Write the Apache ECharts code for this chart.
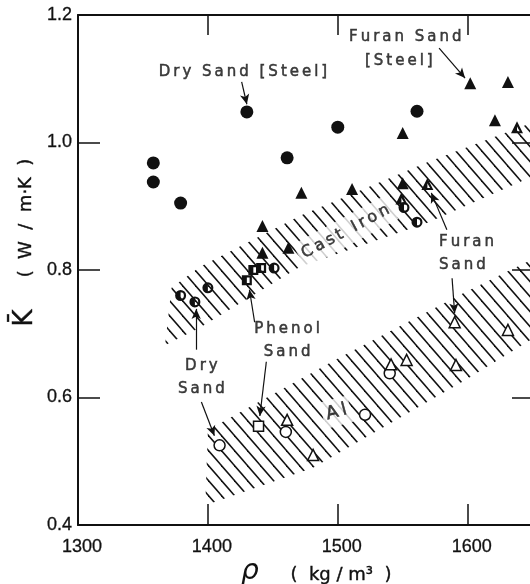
<!DOCTYPE html>
<html><head><meta charset="utf-8">
<script src="https://cdn.jsdelivr.net/npm/echarts@6/dist/echarts.min.js"></script>
<style>html,body{margin:0;padding:0;background:#fff}#c{width:530px;height:584px}</style>
</head><body><div id="c"></div>
<script>
// ---- data (density kg/m3, mean conductivity W/mK) ----
const xTickLabels = [1300, 1400, 1500, 1600];
const xTickMarks = [1400, 1500, 1600];
// Steel (filled)
const steelDry = [[1358,0.968],[1358,0.938],[1379,0.905],[1430,1.048],[1461,0.976],[1500,1.024],[1561,1.049]];
const steelFuran = [[1602,1.093],[1631,1.095],[1621,1.035],[1550,1.015],[1472,0.921],[1511,0.927],[1550,0.936],[1442,0.869],[1462,0.835],[1442,0.827]];
// Cast iron (half filled)
const castDry = [[1379,0.760],[1390,0.750],[1400,0.772],[1451,0.803],[1551,0.898],[1561,0.875]];
const castFuran = [[1569,0.935],[1549,0.912],[1638,1.024]];
const castPhenol = [[1430,0.784],[1435,0.800],[1441,0.803]];
// Aluminium (open)
const alDry = [[1409,0.525],[1460,0.546],[1521,0.573],[1540,0.638]];
const alPhenol = [[1439,0.555]];
const alFuran = [[1461,0.565],[1481,0.510],[1541,0.652],[1553,0.659],[1590,0.718],[1591,0.651],[1631,0.706]];
// hatched bands
const castIronBand = [[1367,0.682],[1372,0.772],[1394,0.805],[1471,0.885],[1569,0.969],[1648,1.030],[1648,0.945],[1569,0.874],[1471,0.805],[1394,0.710]];
const alBand = [[1398,0.431],[1400,0.549],[1499,0.660],[1598,0.765],[1648,0.815],[1648,0.690],[1598,0.627],[1481,0.490]];
// annotations
const notes = [
  {text:'Dry Sand [Steel]', at:[1427,1.111], align:'center', rotate:0},
  {text:'Furan Sand', at:[1552,1.166], align:'center', rotate:0},
  {text:'[Steel]', at:[1547,1.128], align:'center', rotate:0},
  {text:'Cast Iron', at:[1506,0.860], align:'center', rotate:28},
  {text:'Furan\nSand', at:[1578,0.825], align:'left', rotate:0},
  {text:'Phenol\nSand', at:[1461,0.689], align:'center', rotate:0},
  {text:'Dry\nSand', at:[1395,0.631], align:'center', rotate:0},
  {text:'Al', at:[1499,0.577], align:'center', rotate:15}
];
const arrows = [
  [[1426,1.095],[1430,1.060]],
  [[1578,1.148],[1598,1.101]],
  [[1584,0.863],[1572,0.921]],
  [[1588,0.787],[1590,0.732]],
  [[1436,0.718],[1432,0.769]],
  [[1445,0.656],[1440,0.571]],
  [[1391,0.675],[1391,0.739]],
  [[1395,0.593],[1405,0.540]]
];

// ---- styling helpers ----
const INK = '#111';
const NUMFONT = 'Liberation Sans';
const TXTFONT = 'DejaVu Sans';
const sp = s => s.split('\n').map(l => Array.from(l).join('\u2009')).join('\n');

function hatchPattern(){
  const w = 13, h = 15;
  const c = document.createElement('canvas');
  c.width = w; c.height = h;
  const g = c.getContext('2d');
  g.strokeStyle = INK; g.lineWidth = 1.5;
  for (const k of [-1, 0, 1]) {
    g.beginPath();
    g.moveTo(k*w - w, -h);
    g.lineTo(k*w + 2*w, 2*h);
    g.stroke();
  }
  return {image: c, repeat: 'repeat'};
}
const hatch = hatchPattern();

const halfCircle = 'path://M1,0 A1,1 0 1,1 -1,0 A1,1 0 1,1 1,0 Z M0.6,0 A0.6,0.6 0 1,0 -0.6,0 A0.6,0.6 0 1,0 0.6,0 Z M0,-0.6 A0.6,0.6 0 0,0 0,0.6 Z';
const halfTri = 'path://M0,-1 L1,0.8 L-1,0.8 Z M0,-0.2 L-0.45,0.5 L0.45,0.5 Z M0,-0.2 L-0.45,0.5 L0,0.5 Z';
const halfSq = 'path://M-1,-1 L1,-1 L1,1 L-1,1 Z M-0.55,-0.55 L-0.55,0.55 L0.55,0.55 L0.55,-0.55 Z M-0.55,-0.55 L-0.55,0.55 L0,0.55 L0,-0.55 Z';

function band(name, pts){
  return {
    name, type:'custom', coordinateSystem:'cartesian2d', data:[0], clip:true, silent:true, z:1,
    renderItem:(params, api) => ({
      type:'polygon',
      shape:{points: pts.map(p => api.coord(p))},
      style:{fill: hatch, stroke: null}
    })
  };
}
function pts(name, data, symbol, size, fill){
  return {
    name, type:'scatter', data, symbol, symbolSize:size, z:5, silent:true,
    itemStyle:{color: fill, borderColor: INK, borderWidth: fill === '#fff' ? 1.5 : 0, opacity:1}
  };
}

const chart = echarts.init(document.getElementById('c'), null, {renderer:'canvas'});
const axisLine = {show:true, lineStyle:{color:INK, width:2}};
chart.setOption({
  animation:false,
  backgroundColor:'#fff',
  grid:{left:78, top:15, right:0, bottom:59, containLabel:false},
  xAxis:[
    {type:'value', min:1300, max:1648, position:'bottom', axisLine,
     axisTick:{show:true, inside:true, length:21, customValues:xTickMarks, lineStyle:{color:INK, width:1.5}},
     axisLabel:{show:true, customValues:xTickLabels, margin:13, padding:[0,0,0,8], fontSize:18, fontFamily:NUMFONT, color:INK,
                textBorderColor:INK, textBorderWidth:0.3, formatter:v=>String(v)},
     splitLine:{show:false}},
    {type:'value', min:1300, max:1648, position:'top', axisLine,
     axisTick:{show:true, inside:true, length:20, customValues:xTickMarks, lineStyle:{color:INK, width:1.5}},
     axisLabel:{show:false}, splitLine:{show:false}}
  ],
  yAxis:[
    {type:'value', min:0.4, max:1.2, interval:0.2, position:'left', axisLine,
     axisTick:{show:true, inside:true, length:22, lineStyle:{color:INK, width:1.5}},
     axisLabel:{show:true, margin:6, fontSize:18, fontFamily:NUMFONT, color:INK, textBorderColor:INK, textBorderWidth:0.3,
                formatter:v=>v.toFixed(1)},
     splitLine:{show:false}},
    {type:'value', min:0.4, max:1.2, interval:0.2, position:'right', axisLine:{show:false},
     axisTick:{show:true, inside:true, length:18, lineStyle:{color:INK, width:1.5}},
     axisLabel:{show:false}, splitLine:{show:false}}
  ],
  series:[
    band('Cast Iron band', castIronBand),
    band('Al band', alBand),
    pts('Steel dry sand', steelDry, 'circle', 13, INK),
    pts('Steel furan sand', steelFuran, 'triangle', 12, INK),
    pts('Cast iron dry sand', castDry, halfCircle, 11, INK),
    pts('Cast iron furan sand', castFuran, halfTri, 12, INK),
    pts('Cast iron phenol sand', castPhenol, halfSq, 10, INK),
    pts('Al dry sand', alDry, 'circle', 11, '#fff'),
    pts('Al phenol sand', alPhenol, 'rect', 10, '#fff'),
    pts('Al furan sand', alFuran, 'triangle', 11, '#fff'),
    {
      name:'notes', type:'scatter', silent:true, z:6, symbolSize:1,
      itemStyle:{color:'rgba(0,0,0,0)'},
      label:{show:true, position:'inside', color:INK, fontFamily:TXTFONT, fontSize:15, textBorderColor:INK, textBorderWidth:0.5},
      data: notes.map(n => {
        const boxed = n.text === 'Cast Iron' || n.text === 'Al';
        return {
          value:n.at,
          label:{formatter: sp(n.text), align:n.align, verticalAlign:'middle', rotate:n.rotate, lineHeight:23,
                 fontSize: n.text === 'Al' ? 18 : (n.text === 'Cast Iron' ? 16 : 15),
                 backgroundColor: boxed ? '#fff' : 'transparent', padding: boxed ? [2,4] : 0}
        };
      }),
      markLine:{
        silent:true, animation:false, symbol:['none','arrow'], symbolSize:[7,10],
        lineStyle:{color:INK, width:1.2, type:'solid'}, label:{show:false},
        emphasis:{disabled:true},
        data: arrows.map(a => [{coord:a[0]}, {coord:a[1]}])
      }
    }
  ],
  graphic:[
    {type:'text', x:25, y:318, rotation:Math.PI/2, silent:true,
     style:{text:'K\u0304', font:'26px "DejaVu Sans"', fill:INK, stroke:INK, lineWidth:0.4, textAlign:'center', textVerticalAlign:'middle'}},
    {type:'text', x:26, y:218, rotation:Math.PI/2, silent:true,
     style:{text:'(  W  /  m\u00b7K  )', font:'18px "DejaVu Sans"', fill:INK, stroke:INK, lineWidth:0.4, textAlign:'center', textVerticalAlign:'middle'}},
    {type:'text', x:250, y:572, silent:true,
     style:{text:'\u03c1', font:'italic 28px "DejaVu Sans"', fill:INK, textAlign:'center', textVerticalAlign:'middle'}},
    {type:'text', x:341, y:575, silent:true,
     style:{text:'(  kg / m\u00b3  )', font:'18px "DejaVu Sans"', fill:INK, stroke:INK, lineWidth:0.4, textAlign:'center', textVerticalAlign:'middle'}}
  ]
});
</script>
</body></html>
